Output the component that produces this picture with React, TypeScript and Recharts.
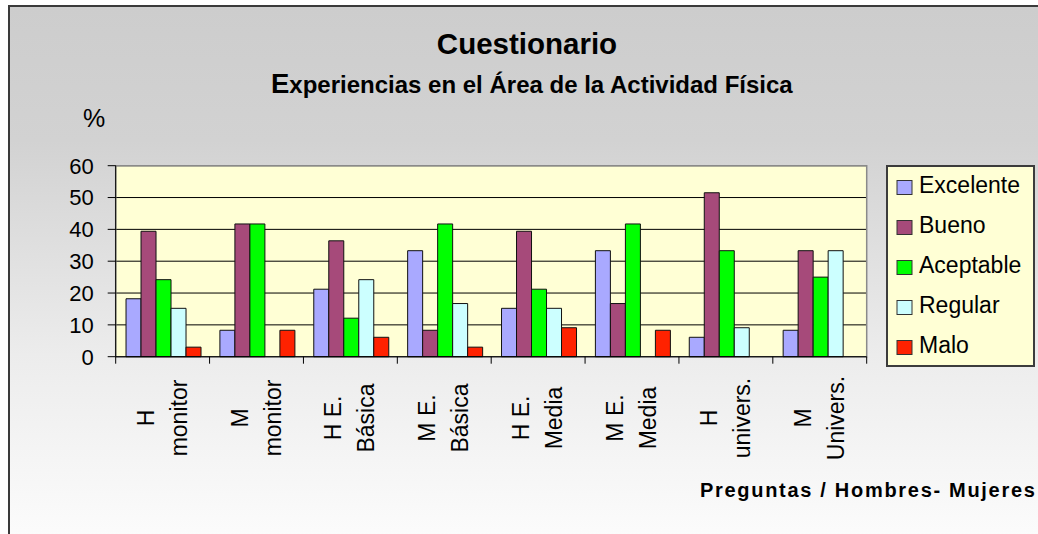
import React from 'react';
import { BarChart, Bar, XAxis, YAxis, CartesianGrid, ReferenceArea } from 'recharts';

// categories (line break = second line of the rotated label)
const categories = [
  'H\nmonitor',
  'M\nmonitor',
  'H E.\nBásica',
  'M E.\nBásica',
  'H E.\nMedia',
  'M E.\nMedia',
  'H\nunivers.',
  'M\nUnivers.',
];

const excelente = [18.2, 8.3, 21.2, 33.3, 15.2, 33.3, 6.1, 8.3];
const bueno = [39.4, 41.7, 36.4, 8.3, 39.4, 16.7, 51.5, 33.3];
const aceptable = [24.2, 41.7, 12.1, 41.7, 21.2, 41.7, 33.3, 25.0];
const regular = [15.2, 0, 24.2, 16.7, 15.2, 0, 9.1, 33.3];
const malo = [3.0, 8.3, 6.1, 3.0, 9.1, 8.3, 0, 0];

const yTicks = [0, 10, 20, 30, 40, 50, 60];

const SERIES = [
  { key: 'excelente', name: 'Excelente', color: '#A9A9FF' },
  { key: 'bueno', name: 'Bueno', color: '#A64A7A' },
  { key: 'aceptable', name: 'Aceptable', color: '#00FF00' },
  { key: 'regular', name: 'Regular', color: '#CCFFFF' },
  { key: 'malo', name: 'Malo', color: '#FF2200' },
];

const data = categories.map((c, i) => ({
  name: c,
  excelente: excelente[i],
  bueno: bueno[i],
  aceptable: aceptable[i],
  regular: regular[i],
  malo: malo[i],
}));

const W = 1038;
const H = 534;
const PLOT_LEFT = 115.7;
const PLOT_RIGHT = 866.7;
const PLOT_TOP = 165.7;
const PLOT_BOTTOM = 356.7;
const Y_AXIS_W = 60;
const X_AXIS_H = 120;
const LABEL_CY = 418;
const FONT = '"Liberation Sans", Arial, Helvetica, sans-serif';

const XTick = (props: any) => {
  const { x, payload, index } = props;
  const half = (PLOT_RIGHT - PLOT_LEFT) / categories.length / 2;
  const lines = String(payload.value).split('\n');
  return (
    <g>
      <line x1={x - half} x2={x - half} y1={PLOT_BOTTOM} y2={PLOT_BOTTOM + 7} stroke="#000" />
      {index === categories.length - 1 && (
        <line x1={x + half} x2={x + half} y1={PLOT_BOTTOM} y2={PLOT_BOTTOM + 7} stroke="#000" />
      )}
      <text
        transform={`rotate(-90, ${x}, ${LABEL_CY})`}
        textAnchor="middle"
        fontSize={23}
        fontFamily={FONT}
        fill="#000"
      >
        <tspan x={x} y={LABEL_CY - 9}>{lines[0]}</tspan>
        <tspan x={x} y={LABEL_CY + 24}>{lines[1]}</tspan>
      </text>
    </g>
  );
};

export default function App() {
  return (
    <div style={{ position: 'relative', width: W, height: H, overflow: 'hidden', fontFamily: FONT }}>
      <style>{'body{margin:0}'}</style>
      <div
        style={{
          position: 'absolute',
          left: 8,
          top: 5,
          width: W,
          height: H,
          borderTop: '2px solid #3a3a3a',
          borderLeft: '2px solid #3a3a3a',
          background: 'linear-gradient(to bottom, #cdcdcd 0%, #d2d2d2 25%, #ececec 65%, #fcfcfc 100%)',
        }}
      />
      <div style={{ position: 'absolute', left: 0, top: 0 }}>
        <BarChart
          width={W}
          height={H}
          data={data}
          margin={{
            top: PLOT_TOP,
            right: W - PLOT_RIGHT,
            bottom: H - PLOT_BOTTOM - X_AXIS_H,
            left: PLOT_LEFT - Y_AXIS_W,
          }}
          barCategoryGap="11%"
          barGap={0}
        >
          <CartesianGrid fill="#FFFFD5" fillOpacity={1} vertical={false} stroke="#000" strokeOpacity={1} />
          <ReferenceArea y1={0} y2={60} fill="none" stroke="#8a8a8a" strokeWidth={1.5} />
          <XAxis
            dataKey="name"
            height={X_AXIS_H}
            interval={0}
            tickLine={false}
            axisLine={{ stroke: '#000' }}
            tick={<XTick />}
          />
          <YAxis
            width={Y_AXIS_W}
            domain={[0, 60]}
            ticks={yTicks}
            interval={0}
            tickSize={8}
            tickMargin={14}
            axisLine={{ stroke: '#000' }}
            tickLine={{ stroke: '#000' }}
            tick={{ fill: '#000', fontSize: 22, fontFamily: FONT }}
          />
          {SERIES.map((s) => (
            <Bar
              key={s.key}
              dataKey={s.key}
              name={s.name}
              fill={s.color}
              stroke="#111"
              strokeWidth={1}
              isAnimationActive={false}
            />
          ))}
        </BarChart>
      </div>
      <svg
        width={W}
        height={H}
        style={{ position: 'absolute', left: 0, top: 0, pointerEvents: 'none' }}
        fontFamily={FONT}
      >
        <text x={527} y={54} textAnchor="middle" fontSize={29.5} fontWeight="bold" fill="#000">
          Cuestionario
        </text>
        <text x={271} y={93} fontWeight="bold" fill="#000" fontSize={24}>
          <tspan fontSize={27.5}>E</tspan>
          <tspan>xperiencias  en el Área de la Actividad Física</tspan>
        </text>
        <text x={83} y={127} fontSize={25} fill="#000">%</text>
        <text x={700} y={497} fontSize={20} fontWeight="bold" letterSpacing={1.7} fill="#000">
          Preguntas / Hombres- Mujeres
        </text>
        <rect x={887} y={166} width={147} height={200} fill="#FFFFD5" stroke="#3c3c3c" strokeWidth={2} />
        {SERIES.map((s, i) => (
          <g key={s.key}>
            <rect x={897} y={180.5 + i * 40} width={15} height={14} fill={s.color} stroke="#333" strokeWidth={1} />
            <text x={919} y={193 + i * 40} fontSize={23} fill="#000">
              {s.name}
            </text>
          </g>
        ))}
      </svg>
    </div>
  );
}
